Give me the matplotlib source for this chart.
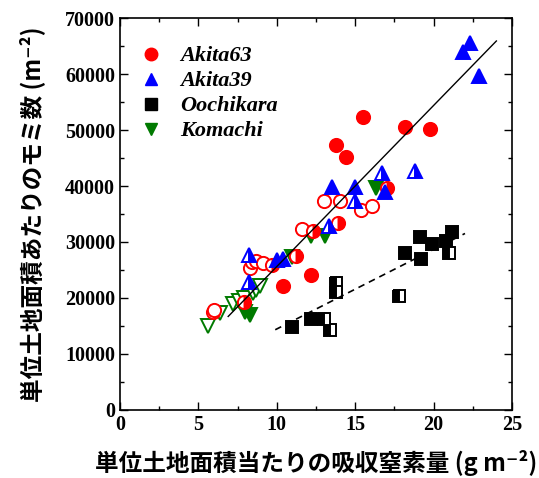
import matplotlib
matplotlib.use("Agg")
import matplotlib.pyplot as plt
import numpy as np

# Akita63 (red circles): filled / open / half
a63_fill_x = [10.4, 12.2, 13.8, 14.4, 15.5, 18.2, 19.8]
a63_fill_y = [22200, 24100, 47300, 45200, 52400, 50600, 50200]
a63_open_x = [5.9, 6.0, 8.3, 8.4, 8.7, 9.1, 11.6, 13.0, 14.0, 15.4, 16.1]
a63_open_y = [17500, 17900, 25300, 26500, 26600, 26300, 32300, 37300, 37300, 35700, 36500]
a63_half_x = [7.9, 9.7, 11.2, 12.3, 13.9, 17.0]
a63_half_y = [19300, 25900, 27500, 31900, 33400, 39700]

# Akita39 (blue up triangles)
a39_fill_x = [10.0, 10.4, 13.5, 15.0, 16.9, 21.9, 22.3, 22.9]
a39_fill_y = [26700, 27000, 39900, 39900, 39000, 64000, 65500, 59700]
a39_half_x = [8.2, 8.2, 13.3, 15.0, 16.7, 18.8]
a39_half_y = [27600, 22800, 32900, 37300, 42300, 42600]

# Oochikara (black squares)
ooc_fill_x = [11.0, 12.2, 18.2, 19.1, 19.2, 19.9, 20.8, 21.2]
ooc_fill_y = [14900, 16300, 28100, 30900, 27000, 29600, 30200, 31800]
ooc_half_x = [13.0, 13.4, 13.8, 13.8, 17.8, 21.0]
ooc_half_y = [16200, 14200, 22600, 21000, 20400, 28100]

# Komachi (green down triangles)
kom_fill_x = [8.0, 8.3, 11.0, 12.2, 13.1, 16.3]
kom_fill_y = [17500, 17000, 27400, 31000, 31000, 39700]
kom_open_x = [5.6, 6.4, 7.2, 7.6, 7.9, 8.5, 8.7, 8.9]
kom_open_y = [15000, 17300, 19000, 19400, 20000, 20900, 21400, 22100]

# regression lines (slope, intercept, x range)
solid_fit = (2877.0, -3150.0)
solid_range = (6.9, 24.0)
dashed_fit = (1421.0, 260.0)
dashed_range = (9.9, 22.0)

plt.rcParams["font.family"] = ["Liberation Serif", "DejaVu Serif"]
jp = ["Noto Sans CJK JP", "DejaVu Sans"]

fig = plt.figure(figsize=(5.39, 4.78), dpi=100)
ax = fig.add_axes([0.2226, 0.1423, 0.7274, 0.82])

ms = 9.5
mew = 1.4

def pts(x, y, marker, color, fill, size=ms):
    ax.plot(x, y, linestyle="none", marker=marker, markersize=size,
            color=color, markerfacecolor=color if fill != "none" else "white",
            markerfacecoloralt="white", fillstyle=fill if fill != "none" else "full",
            markeredgecolor=color, markeredgewidth=mew)

red, blue, black, green = "#ff0000", "#0000ff", "#000000", "#007a00"

pts(ooc_fill_x, ooc_fill_y, "s", black, "full", size=9)
pts(ooc_half_x, ooc_half_y, "s", black, "left", size=9)
pts(kom_open_x, kom_open_y, "v", green, "none")
pts(kom_fill_x, kom_fill_y, "v", green, "full")
pts(a63_open_x, a63_open_y, "o", red, "none")
pts(a63_half_x, a63_half_y, "o", red, "right")
pts(a63_fill_x, a63_fill_y, "o", red, "full")
pts(a39_half_x, a39_half_y, "^", blue, "right")
pts(a39_fill_x, a39_fill_y, "^", blue, "full")

xs = np.array(solid_range)
ax.plot(xs, solid_fit[0] * xs + solid_fit[1], color="black", lw=1)
xd = np.array(dashed_range)
ax.plot(xd, dashed_fit[0] * xd + dashed_fit[1], color="black", lw=1.2, ls=(0, (4, 3)))

# legend entries
handles = [
    plt.Line2D([], [], ls="none", marker="o", color=red, markersize=9, label="Akita63"),
    plt.Line2D([], [], ls="none", marker="^", color=blue, markersize=9, label="Akita39"),
    plt.Line2D([], [], ls="none", marker="s", color=black, markersize=8, label="Oochikara"),
    plt.Line2D([], [], ls="none", marker="v", color=green, markersize=9, label="Komachi"),
]
ax.legend(handles=handles, loc="upper left", bbox_to_anchor=(0.0, 0.98), frameon=False,
          prop={"family": "Liberation Serif", "weight": "bold", "style": "italic", "size": 16},
          handlelength=1.0, handletextpad=0.8, labelspacing=0.2)

ax.set_xlim(0, 25)
ax.set_ylim(0, 70000)
ax.set_xticks(np.arange(0, 26, 5))
ax.set_xticks(np.arange(0, 26, 2.5), minor=True)
ax.set_yticks(np.arange(0, 70001, 10000))
ax.set_yticks(np.arange(0, 70001, 5000), minor=True)
ax.tick_params(which="both", direction="in", top=True, right=True, width=1)
ax.tick_params(which="major", length=6, labelsize=14.5)
ax.tick_params(which="minor", length=3)
for lab in ax.get_xticklabels() + ax.get_yticklabels():
    lab.set_fontweight("bold")
for s in ax.spines.values():
    s.set_linewidth(1.2)

ax.set_xlabel("単位土地面積当たりの吸収窒素量 (g m⁻²)", family=jp, fontsize=17,
              fontweight="bold", labelpad=11)
ax.set_ylabel("単位土地面積あたりのモミ数 (m⁻²)", family=jp, fontsize=17,
              fontweight="bold", labelpad=14)

fig.savefig("out.png", dpi=100)
